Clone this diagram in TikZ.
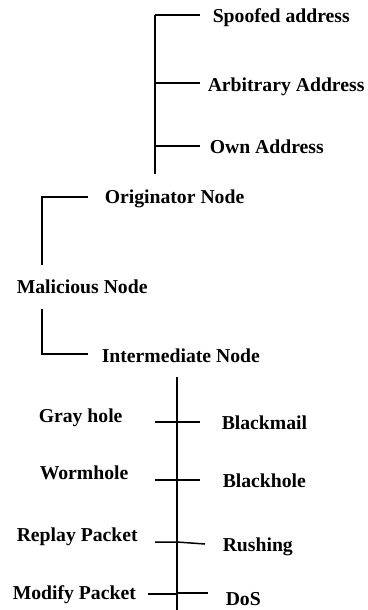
\documentclass[tikz,border=0pt]{standalone}
\usepackage{fontspec}
\setmainfont{Liberation Serif}
\begin{document}
\begin{tikzpicture}[x=1pt,y=-1pt,
  line width=1.5pt,
  lbl/.style={anchor=base west, inner sep=0pt, font=\fontsize{19.7}{23}\selectfont\bfseries},
  branch/.style={line width=1.5pt, line cap=butt}]
\useasboundingbox (0,0) rectangle (367,610);

% ---- labels ----
\node[lbl] (spoof) at (212,23)  {Spoofed address};
\node[lbl] (arb)   at (207,91)  {Arbitrary Address};
\node[lbl] (own)   at (209,153) {Own Address};
\node[lbl] (orig)  at (104,203) {Originator Node};
\node[lbl] (mal)   at (16,293)  {Malicious Node};
\node[lbl] (inter) at (101,362) {Intermediate Node};
\node[lbl] (gray)  at (38,422)  {Gray hole};
\node[lbl] (bmail) at (221,429) {Blackmail};
\node[lbl] (worm)  at (39,479)  {Wormhole};
\node[lbl] (bhole) at (222,487) {Blackhole};
\node[lbl] (replay) at (16,541) {Replay Packet};
\node[lbl] (rush)  at (222,551) {Rushing};
\node[lbl] (modify) at (12,599) {Modify Packet};
\node[lbl] (dos)   at (225,605) {DoS};

% ---- address tree ----
\coordinate (aTop) at (155,15);
\coordinate (aMid) at (155,83);
\coordinate (aLow) at (155,146);
\coordinate (aEnd) at (155,174);
\coordinate (aSpoof) at (200,15);
\coordinate (aArb)   at (200,83);
\coordinate (aOwn)   at (200,146);
\draw[branch] (aTop) -- (aEnd);
\draw[branch] (aTop) -- (aSpoof);
\draw[branch] (aMid) -- (aArb);
\draw[branch] (aLow) -- (aOwn);

% ---- malicious node brackets ----
\coordinate (oCorner) at (42,197);
\coordinate (oEnd)    at (88,197);
\coordinate (oFoot)   at (42,265);
\draw[branch] (oFoot) -- (oCorner) -- (oEnd);
\coordinate (iTop)    at (42,309);
\coordinate (iCorner) at (42,354);
\coordinate (iEnd)    at (88,354);
\draw[branch] (iTop) -- (iCorner) -- (iEnd);

% ---- attack axis ----
\coordinate (axTop) at (177,377);
\coordinate (axBot) at (177,610);
\draw[branch] (axTop) -- (axBot);

\coordinate (t1L) at (155,422); \coordinate (t1R) at (200,422);
\coordinate (t2L) at (155,480); \coordinate (t2R) at (200,480);
\coordinate (t3L) at (155,542); \coordinate (t3M) at (177,542); \coordinate (t3R) at (205,544);
\coordinate (t4L) at (148,594); \coordinate (t4M) at (177,594);
\coordinate (t4m) at (177,593); \coordinate (t4R) at (208,593);
\draw[branch] (t1L) -- (t1R);
\draw[branch] (t2L) -- (t2R);
\draw[branch] (t3L) -- (t3M) -- (t3R);
\draw[branch] (t4L) -- (t4M);
\draw[branch] (t4m) -- (t4R);
\end{tikzpicture}
\end{document}
